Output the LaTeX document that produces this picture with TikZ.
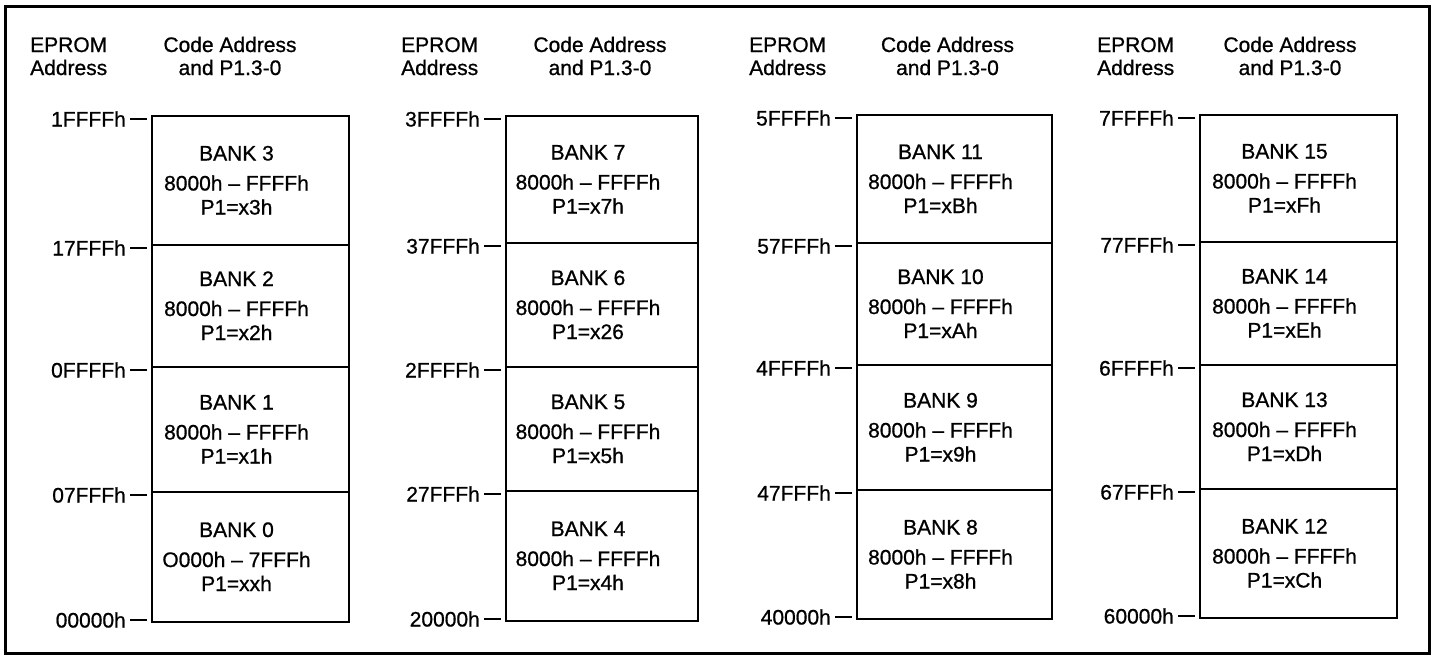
\documentclass[tikz,border=0pt]{standalone}
\usepackage{fontspec}
\setmainfont{Liberation Sans}
\newfontfamily\scanfont{Liberation Sans}[FakeBold=0.8]
\tikzset{
  txt/.style={inner sep=0pt, font=\scanfont\fontsize{21}{25}\selectfont, text=black},
  bankrect/.style={draw=black, line width=2pt, inner sep=0pt},
  tickline/.style={draw=black, line width=1.6pt},
  frameline/.style={draw=black, line width=3pt},
}
% bank: name, L, R, top, bottom, title, range, p1
\newcommand\bankbox[8]{%
  \node[bankrect, minimum width={(#3-#2)*1pt}, minimum height={(#5-#4)*1pt}]
    (#1) at ({(#2+#3)/2},{(#4+#5)/2}) {};
  \node[txt, anchor=base] (#1-t) at ({(#2+#3)/2-14},{(#4+#5)/2+10-30}) {#6};
  \node[txt, anchor=base] (#1-r) at ({(#2+#3)/2-14},{(#4+#5)/2+10}) {#7};
  \node[txt, anchor=base] (#1-p) at ({(#2+#3)/2-14},{(#4+#5)/2+10+24}) {#8};
}
% tick: name, L, y, label
\newcommand\addrtick[4]{%
  \node[txt, anchor=base east] (#1) at ({#2-26},{#3+3+7.5}) {#4};
  \coordinate (#1-a) at ({#2-22},{#3+3});
  \coordinate (#1-b) at ({#2-5},{#3+3});
  \draw[tickline] (#1-a) -- (#1-b);
}
% header: name, eprom x, code center x
\newcommand\header[3]{%
  \node[txt, anchor=base west] (#1-e1) at (#2,52) {EPROM};
  \node[txt, anchor=base west] (#1-e2) at (#2,75) {Address};
  \node[txt, anchor=base] (#1-c1) at (#3,52) {Code Address};
  \node[txt, anchor=base] (#1-c2) at (#3,75) {and P1.3-0};
}
\begin{document}
\begin{tikzpicture}[x=1pt,y=-1pt]
\useasboundingbox (0,0) rectangle (1431,656);
\fill[white] (0,0) rectangle (1431,656);
\draw[frameline] (5.5,6.5) rectangle (1429,653.5);

% column 1
\header{h1}{30}{230}
\bankbox{b3}{152}{349}{116}{245}{BANK 3}{8000h – FFFFh}{P1=x3h}
\bankbox{b2}{152}{349}{245}{367}{BANK 2}{8000h – FFFFh}{P1=x2h}
\bankbox{b1}{152}{349}{367}{492}{BANK 1}{8000h – FFFFh}{P1=x1h}
\bankbox{b0}{152}{349}{492}{622}{BANK 0}{O000h – 7FFFh}{P1=xxh}
\addrtick{t1a}{152}{116}{1FFFFh}
\addrtick{t1b}{152}{245}{17FFFh}
\addrtick{t1c}{152}{367}{0FFFFh}
\addrtick{t1d}{152}{492}{07FFFh}
\addrtick{t1e}{152}{617}{00000h}

% column 2
\header{h2}{401}{600}
\bankbox{b7}{506}{698}{116}{243}{BANK 7}{8000h – FFFFh}{P1=x7h}
\bankbox{b6}{506}{698}{243}{367}{BANK 6}{8000h – FFFFh}{P1=x26}
\bankbox{b5}{506}{698}{367}{491}{BANK 5}{8000h – FFFFh}{P1=x5h}
\bankbox{b4}{506}{698}{491}{621}{BANK 4}{8000h – FFFFh}{P1=x4h}
\addrtick{t2a}{506}{116}{3FFFFh}
\addrtick{t2b}{506}{243}{37FFFh}
\addrtick{t2c}{506}{367}{2FFFFh}
\addrtick{t2d}{506}{491}{27FFFh}
\addrtick{t2e}{506}{616}{20000h}

% column 3
\header{h3}{749}{947.5}
\bankbox{b11}{857}{1052}{115}{243}{BANK 11}{8000h – FFFFh}{P1=xBh}
\bankbox{b10}{857}{1052}{243}{365}{BANK 10}{8000h – FFFFh}{P1=xAh}
\bankbox{b9}{857}{1052}{365}{490}{BANK 9}{8000h – FFFFh}{P1=x9h}
\bankbox{b8}{857}{1052}{490}{619}{BANK 8}{8000h – FFFFh}{P1=x8h}
\addrtick{t3a}{857}{115}{5FFFFh}
\addrtick{t3b}{857}{243}{57FFFh}
\addrtick{t3c}{857}{365}{4FFFFh}
\addrtick{t3d}{857}{490}{47FFFh}
\addrtick{t3e}{857}{614}{40000h}

% column 4
\header{h4}{1097}{1290}
\bankbox{b15}{1200}{1397}{115}{242}{BANK 15}{8000h – FFFFh}{P1=xFh}
\bankbox{b14}{1200}{1397}{242}{365}{BANK 14}{8000h – FFFFh}{P1=xEh}
\bankbox{b13}{1200}{1397}{365}{489}{BANK 13}{8000h – FFFFh}{P1=xDh}
\bankbox{b12}{1200}{1397}{489}{618}{BANK 12}{8000h – FFFFh}{P1=xCh}
\addrtick{t4a}{1200}{115}{7FFFFh}
\addrtick{t4b}{1200}{242}{77FFFh}
\addrtick{t4c}{1200}{365}{6FFFFh}
\addrtick{t4d}{1200}{489}{67FFFh}
\addrtick{t4e}{1200}{613}{60000h}
\end{tikzpicture}
\end{document}
